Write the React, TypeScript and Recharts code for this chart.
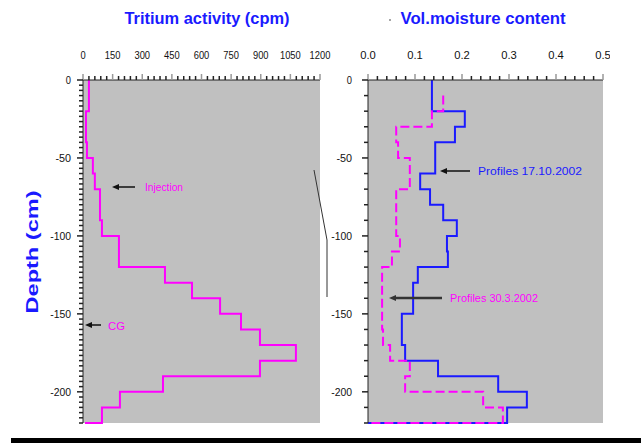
import React from 'react';
import { LineChart, Line, XAxis, YAxis, CartesianGrid } from 'recharts';

// tritium profile (layer top depth in cm, activity in cpm for that layer)
const tritiumDepth = [0, -20, -40, -50, -60, -70, -80, -90, -100, -120, -130, -140, -150, -160, -170, -180, -190, -200, -210, -220];
const tritiumCpm = [30, 15, 20, 50, 60, 86, 86, 96, 182, 415, 552, 694, 800, 896, 1078, 896, 405, 187, 96, 10];

// moisture profiles, one value per 10 cm layer
const moistureDepth = [0, -10, -20, -30, -40, -50, -60, -70, -80, -90, -100, -110, -120, -130, -140, -150, -160, -170, -180, -190, -200, -210, -220];
const moistureOct = [0.136, 0.136, 0.206, 0.185, 0.143, 0.143, 0.111, 0.132, 0.16, 0.189, 0.168, 0.17, 0.106, 0.096, 0.096, 0.072, 0.072, 0.079, 0.149, 0.277, 0.338, 0.296, 0];
const moistureMar = [null, 0.16, 0.136, 0.06, 0.064, 0.089, 0.089, 0.06, 0.06, 0.06, 0.068, 0.051, 0.03, 0.03, 0.03, 0.03, 0.032, 0.047, 0.089, 0.079, 0.245, 0.287, 0];

const cpmTicks = [0, 150, 300, 450, 600, 750, 900, 1050, 1200];
const moistTicks = [0, 0.1, 0.2, 0.3, 0.4, 0.5];
const depthTicks = [0, -50, -100, -150, -200];

const PINK = '#ff00ff';
const BLUE = '#1a1aff';
const FONT = '"Liberation Sans", Arial, sans-serif';

const tritiumData = tritiumDepth.map((d, i) => ({ depth: d, cpm: tritiumCpm[i] }));
const moistureData = moistureDepth.map((d, i) => ({ depth: d, oct: moistureOct[i], mar: moistureMar[i] }));

const range = (from: number, to: number, step: number) => {
  const out: number[] = [];
  for (let v = from; v <= to + 1e-9; v += step) out.push(Math.round(v * 1000) / 1000);
  return out;
};

const isMajor = (v: number, majors: number[]) => majors.some((m) => Math.abs(m - v) < 1e-6);

// narrow-looking tick text, squeezed to about 5px per character
function TickText({ x, y, anchor, label }: { x: number; y: number; anchor: string; label: string }) {
  return (
    <text x={x} y={y} textAnchor={anchor} fontSize={11} fontFamily={FONT} fill="#111" textLength={label.length * 5.2} lengthAdjust="spacingAndGlyphs">
      {label}
    </text>
  );
}

function TopTick(props: any) {
  const { x, y, payload, majors, fmt } = props;
  const major = isMajor(payload.value, majors);
  return (
    <g>
      <line x1={x} x2={x} y1={y} y2={y - (major ? 6 : 4)} stroke={major ? '#999' : '#222'} strokeWidth={1.5} />
      {major && <TickText x={x} y={y - 21} anchor="middle" label={fmt(payload.value)} />}
    </g>
  );
}

function LeftTick(props: any) {
  const { x, y, payload, majors, gap } = props;
  const major = isMajor(payload.value, majors);
  return (
    <g>
      <line x1={x} x2={x - (major ? 6 : 4)} y1={y} y2={y} stroke="#222" strokeWidth={1.5} />
      {major && <TickText x={x - gap} y={y + 4} anchor="end" label={String(payload.value)} />}
    </g>
  );
}

function Arrow({ x1, x2, y, color = '#111', w = 1.5 }: { x1: number; x2: number; y: number; color?: string; w?: number }) {
  return (
    <g>
      <line x1={x1 + 5} x2={x2} y1={y} y2={y} stroke={color} strokeWidth={w} />
      <polygon points={`${x1},${y} ${x1 + 7},${y - 3} ${x1 + 7},${y + 3}`} fill={color} />
    </g>
  );
}

export default function App() {
  return (
    <div style={{ position: 'absolute', left: 0, top: 0, width: 641, height: 443, background: '#fff', overflow: 'hidden' }}>
      <div style={{ position: 'absolute', left: 0, top: 0 }}>
        <LineChart width={340} height={443} layout="vertical" data={tritiumData} margin={{ top: 0, right: 20, bottom: 20, left: 0 }}>
          <CartesianGrid fill="#c0c0c0" horizontal={false} vertical={false} />
          <XAxis
            type="number"
            dataKey="cpm"
            orientation="top"
            height={80}
            domain={[0, 1200]}
            ticks={range(0, 1200, 30)}
            interval={0}
            tickSize={0}
            tickMargin={0}
            stroke="#222"
            tick={(p: any) => <TopTick {...p} majors={cpmTicks} fmt={(v: number) => String(v)} />}
          />
          <YAxis
            type="number"
            dataKey="depth"
            width={83}
            reversed
            domain={[-220, 0]}
            ticks={range(0, 220, 10 / 3).map((v) => -v)}
            interval={0}
            tickSize={0}
            tickMargin={0}
            stroke="#222"
            tick={(p: any) => <LeftTick {...p} majors={depthTicks} gap={12} />}
          />
          <Line type="stepBefore" dataKey="cpm" stroke={PINK} strokeWidth={2} dot={false} isAnimationActive={false} />
        </LineChart>
      </div>
      <div style={{ position: 'absolute', left: 330, top: 0 }}>
        <LineChart width={280} height={443} layout="vertical" data={moistureData} margin={{ top: 0, right: 7, bottom: 20, left: 0 }}>
          <CartesianGrid fill="#c0c0c0" horizontal={false} vertical={false} />
          <XAxis
            type="number"
            orientation="top"
            height={80}
            domain={[0, 0.5]}
            ticks={range(0, 0.5, 0.02)}
            interval={0}
            tickSize={0}
            tickMargin={0}
            stroke="#222"
            tick={(p: any) => <TopTick {...p} majors={moistTicks} fmt={(v: number) => v.toFixed(1)} />}
          />
          <YAxis
            type="number"
            dataKey="depth"
            width={38}
            reversed
            domain={[-220, 0]}
            ticks={range(0, 220, 10).map((v) => -v)}
            interval={0}
            tickSize={0}
            tickMargin={0}
            stroke="#222"
            tick={(p: any) => <LeftTick {...p} majors={depthTicks} gap={16} />}
          />
          <Line type="stepBefore" dataKey="oct" stroke={BLUE} strokeWidth={2} dot={false} isAnimationActive={false} />
          <Line type="stepBefore" dataKey="mar" stroke={PINK} strokeWidth={2} strokeDasharray="9 4" dot={false} isAnimationActive={false} />
        </LineChart>
      </div>
      <svg width={641} height={443} style={{ position: 'absolute', left: 0, top: 0, pointerEvents: 'none' }}>
        <text x={207} y={24} textAnchor="middle" fontSize={16} fontWeight="bold" fontFamily={FONT} fill={BLUE} textLength={165} lengthAdjust="spacingAndGlyphs">
          Tritium activity (cpm)
        </text>
        <circle cx={390} cy={20} r={1} fill="#888" />
        <text x={483} y={24} textAnchor="middle" fontSize={16} fontWeight="bold" fontFamily={FONT} fill={BLUE} textLength={165} lengthAdjust="spacingAndGlyphs">
          Vol.moisture content
        </text>
        <text x={0} y={0} transform="translate(38 252) rotate(-90)" textAnchor="middle" fontSize={16} fontWeight="bold" fontFamily={FONT} fill={BLUE} textLength={123} lengthAdjust="spacingAndGlyphs">
          Depth (cm)
        </text>
        <Arrow x1={112} x2={135} y={187} />
        <text x={145} y={191} fontSize={10} fontFamily={FONT} fill={PINK} textLength={38} lengthAdjust="spacingAndGlyphs">Injection</text>
        <Arrow x1={85} x2={101} y={325} />
        <text x={108} y={330} fontSize={11} fontFamily={FONT} fill={PINK} textLength={17} lengthAdjust="spacingAndGlyphs">CG</text>
        <Arrow x1={440} x2={470} y={171} />
        <text x={478} y={175} fontSize={10} fontFamily={FONT} fill={BLUE} textLength={104} lengthAdjust="spacingAndGlyphs">Profiles 17.10.2002</text>
        <Arrow x1={389} x2={442} y={298} color="#333" w={2.5} />
        <text x={450} y={302} fontSize={10} fontFamily={FONT} fill={PINK} textLength={88} lengthAdjust="spacingAndGlyphs">Profiles 30.3.2002</text>
        <polyline points="314,170 327,240 327,297" fill="none" stroke="#333" strokeWidth={1} />
        <rect x={11} y={438} width={630} height={5} fill="#000" />
      </svg>
    </div>
  );
}
